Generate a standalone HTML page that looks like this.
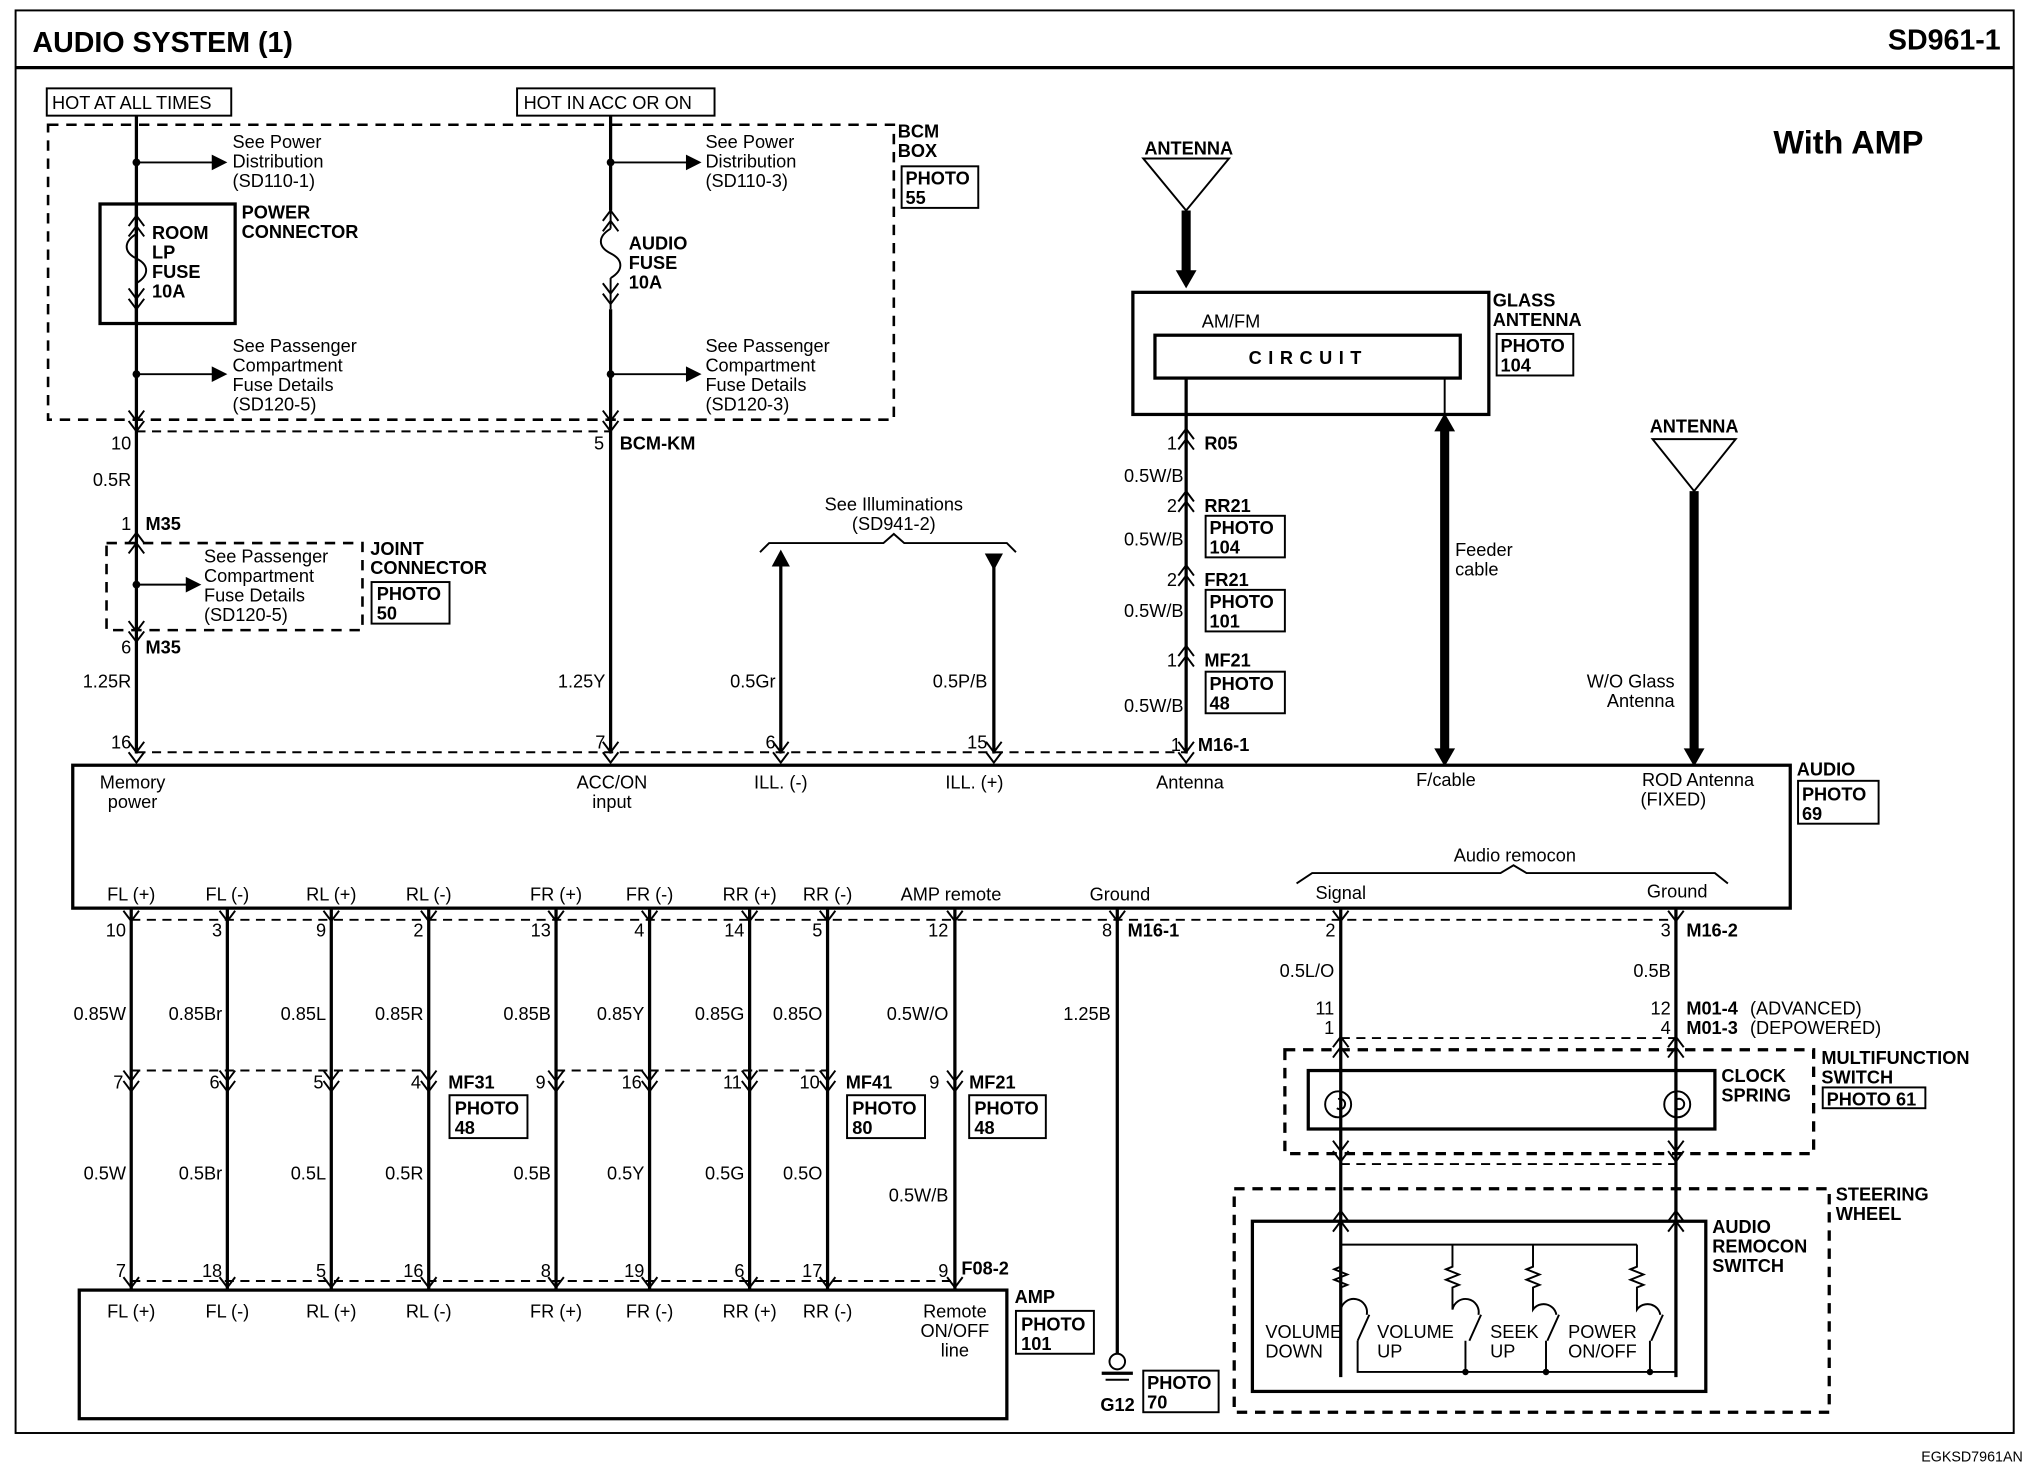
<!DOCTYPE html>
<html><head><meta charset="utf-8"><style>
html,body{margin:0;padding:0;background:#fff;}
svg{display:block;}
text{font-family:"Liberation Sans",Arial,sans-serif;font-size:14px;fill:#000;}
.b{font-weight:bold;}
.w{stroke:#000;stroke-width:2.5;fill:none;}
.t{stroke:#000;stroke-width:1.5;fill:none;}
.d{stroke:#000;stroke-width:1.5;fill:none;stroke-dasharray:7,5;}
.D{stroke:#000;stroke-width:2.5;fill:none;stroke-dasharray:8,6;}
.k{stroke:#000;stroke-width:7;fill:none;}
</style></head><body>
<svg width="2028" height="1472" viewBox="0 0 1561 1133" xmlns="http://www.w3.org/2000/svg">
<defs>
<path id="cv" d="M-6,-6 L0,2 L6,-6 M-6,2 L0,10 L6,2" stroke="#000" stroke-width="1.5" fill="none"/>
<path id="cu" d="M-6,6 L0,-2 L6,6 M-6,-2 L0,-10 L6,-2" stroke="#000" stroke-width="1.5" fill="none"/>
<path id="v1" d="M-6,-5 L0,3 L6,-5" stroke="#000" stroke-width="1.5" fill="none"/>
<path id="ar" d="M0,-6 L12,0 L0,6 Z" fill="#000"/>
</defs>
<rect x="12" y="8" width="1538" height="1095" class="t"/>
<line x1="12" y1="52" x2="1550" y2="52" class="w"/>
<text x="25" y="40" class="b" style="font-size:22px">AUDIO SYSTEM (1)</text>
<text x="1540" y="38" class="b" text-anchor="end" style="font-size:22px">SD961-1</text>
<text x="1365" y="118" class="b" style="font-size:25px">With AMP</text>
<text x="1557" y="1125" text-anchor="end" style="font-size:11px">EGKSD7961AN</text>

<!-- HOT labels -->
<rect x="36" y="68" width="142" height="21" class="t"/><text x="40" y="84">HOT AT ALL TIMES</text>
<rect x="398" y="68" width="152" height="21" class="t"/><text x="403" y="84">HOT IN ACC OR ON</text>
<rect x="37" y="96" width="651" height="227" class="D" style="stroke-width:2"/>
<text x="691" y="106" class="b">BCM</text><text x="691" y="121" class="b">BOX</text>
<rect x="694" y="128" width="59" height="32" class="t"/><text x="697" y="142" class="b">PHOTO</text><text x="697" y="157" class="b">55</text>

<!-- left BCM wire -->
<line x1="105" y1="89" x2="105" y2="580" class="w"/>
<circle cx="105" cy="125" r="3"/><line x1="105" y1="125" x2="165" y2="125" class="t"/><use href="#ar" x="163" y="125"/>
<text x="179" y="114">See Power</text><text x="179" y="129">Distribution</text><text x="179" y="144">(SD110-1)</text>
<rect x="77" y="157" width="104" height="92" class="w" fill="#fff"/>
<line x1="105" y1="157" x2="105" y2="249" class="w" stroke="#fff" stroke-width="4"/>
<line x1="105" y1="157" x2="105" y2="180" class="t"/><line x1="105" y1="218" x2="105" y2="249" class="t"/>
<path d="M105,180 C95,186 95,194 105,199 C115,204 115,212 105,218" class="t"/>
<use href="#cu" x="105" y="176"/><use href="#cv" x="105" y="228"/>
<text x="117" y="184" class="b">ROOM</text><text x="117" y="199" class="b">LP</text><text x="117" y="214" class="b">FUSE</text><text x="117" y="229" class="b">10A</text>
<text x="186" y="168" class="b">POWER</text><text x="186" y="183" class="b">CONNECTOR</text>
<circle cx="105" cy="288" r="3"/><line x1="105" y1="288" x2="165" y2="288" class="t"/><use href="#ar" x="163" y="288"/>
<text x="179" y="271">See Passenger</text><text x="179" y="286">Compartment</text><text x="179" y="301">Fuse Details</text><text x="179" y="316">(SD120-5)</text>

<!-- right BCM wire -->
<line x1="470" y1="89" x2="470" y2="580" class="w"/>
<circle cx="470" cy="125" r="3"/><line x1="470" y1="125" x2="530" y2="125" class="t"/><use href="#ar" x="528" y="125"/>
<text x="543" y="114">See Power</text><text x="543" y="129">Distribution</text><text x="543" y="144">(SD110-3)</text>
<rect x="462" y="162" width="16" height="76" fill="#fff"/>
<path d="M470,176 C460,182 460,190 470,195 C480,200 480,208 470,214" class="t"/>
<line x1="470" y1="162" x2="470" y2="176" class="t"/><line x1="470" y1="214" x2="470" y2="238" class="t"/>
<use href="#cu" x="470" y="172"/><use href="#cv" x="470" y="224"/>
<text x="484" y="192" class="b">AUDIO</text><text x="484" y="207" class="b">FUSE</text><text x="484" y="222" class="b">10A</text>
<circle cx="470" cy="288" r="3"/><line x1="470" y1="288" x2="530" y2="288" class="t"/><use href="#ar" x="528" y="288"/>
<text x="543" y="271">See Passenger</text><text x="543" y="286">Compartment</text><text x="543" y="301">Fuse Details</text><text x="543" y="316">(SD120-3)</text>

<use href="#cv" x="105" y="322"/><use href="#cv" x="470" y="322"/>
<line x1="105" y1="332" x2="470" y2="332" class="d"/>
<text x="101" y="346" text-anchor="end">10</text>
<text x="465" y="346" text-anchor="end">5</text><text x="477" y="346" class="b">BCM-KM</text>
<text x="101" y="374" text-anchor="end">0.5R</text>
<text x="101" y="408" text-anchor="end">1</text><text x="112" y="408" class="b">M35</text>
<use href="#cu" x="105" y="420"/>
<rect x="82" y="418" width="197" height="67" class="D" style="stroke-width:2"/>
<circle cx="105" cy="450" r="3"/><line x1="105" y1="450" x2="145" y2="450" class="t"/><use href="#ar" x="143" y="450"/>
<text x="157" y="433">See Passenger</text><text x="157" y="448">Compartment</text><text x="157" y="463">Fuse Details</text><text x="157" y="478">(SD120-5)</text>
<text x="285" y="427" class="b">JOINT</text><text x="285" y="442" class="b">CONNECTOR</text>
<rect x="286" y="448" width="60" height="32" class="t"/><text x="290" y="462" class="b">PHOTO</text><text x="290" y="477" class="b">50</text>
<use href="#cv" x="105" y="484"/>
<text x="101" y="503" text-anchor="end">6</text><text x="112" y="503" class="b">M35</text>
<text x="101" y="529" text-anchor="end">1.25R</text>
<text x="466" y="529" text-anchor="end">1.25Y</text>

<!-- illumination -->
<path d="M585,425 L592,418 L680,418 L688,411 L696,418 L775,418 L782,425" class="t"/>
<text x="688" y="393" text-anchor="middle">See Illuminations</text><text x="688" y="408" text-anchor="middle">(SD941-2)</text>
<line x1="601" y1="432" x2="601" y2="580" class="w"/><path d="M594,436 L601,423 L608,436Z"/>
<line x1="765" y1="430" x2="765" y2="580" class="w"/><path d="M758,426 L765,439 L772,426Z"/>
<text x="597" y="529" text-anchor="end">0.5Gr</text>
<text x="760" y="529" text-anchor="end">0.5P/B</text>

<!-- antenna -->
<path d="M880,122 L946,122 L913,162 Z" class="t"/>
<text x="915" y="119" text-anchor="middle" class="b">ANTENNA</text>
<line x1="913" y1="162" x2="913" y2="212" class="k"/><path d="M905,208 L913,222 L921,208Z"/>
<rect x="872" y="225" width="274" height="94" class="w"/>
<text x="925" y="252">AM/FM</text>
<rect x="889" y="258" width="235" height="33" class="w"/>
<text x="1007" y="280" text-anchor="middle" class="b" style="letter-spacing:5px">CIRCUIT</text>
<text x="1149" y="236" class="b">GLASS</text><text x="1149" y="251" class="b">ANTENNA</text>
<rect x="1152" y="257" width="59" height="32" class="t"/><text x="1155" y="271" class="b">PHOTO</text><text x="1155" y="286" class="b">104</text>
<line x1="913" y1="291" x2="913" y2="580" class="w"/>
<line x1="1112" y1="291" x2="1112" y2="322" class="t"/>
<line x1="1112" y1="330" x2="1112" y2="578" class="k"/><path d="M1104,332 L1112,318 L1120,332Z"/><path d="M1104,576 L1112,590 L1120,576Z"/>
<text x="1120" y="428">Feeder</text><text x="1120" y="443">cable</text>
<use href="#cu" x="913" y="340"/><text x="906" y="346" text-anchor="end">1</text><text x="927" y="346" class="b">R05</text>
<text x="911" y="371" text-anchor="end">0.5W/B</text>
<use href="#cu" x="913" y="388"/><text x="906" y="394" text-anchor="end">2</text><text x="927" y="394" class="b">RR21</text>
<rect x="928" y="397" width="61" height="32" class="t"/><text x="931" y="411" class="b">PHOTO</text><text x="931" y="426" class="b">104</text>
<text x="911" y="420" text-anchor="end">0.5W/B</text>
<use href="#cu" x="913" y="445"/><text x="906" y="451" text-anchor="end">2</text><text x="927" y="451" class="b">FR21</text>
<rect x="928" y="454" width="61" height="32" class="t"/><text x="931" y="468" class="b">PHOTO</text><text x="931" y="483" class="b">101</text>
<text x="911" y="475" text-anchor="end">0.5W/B</text>
<use href="#cu" x="913" y="507"/><text x="906" y="513" text-anchor="end">1</text><text x="927" y="513" class="b">MF21</text>
<rect x="928" y="517" width="61" height="32" class="t"/><text x="931" y="531" class="b">PHOTO</text><text x="931" y="546" class="b">48</text>
<text x="911" y="548" text-anchor="end">0.5W/B</text>

<path d="M1272,338 L1336,338 L1304,378 Z" class="t"/>
<text x="1304" y="333" text-anchor="middle" class="b">ANTENNA</text>
<line x1="1304" y1="378" x2="1304" y2="578" class="k"/><path d="M1296,576 L1304,590 L1312,576Z"/>
<text x="1289" y="529" text-anchor="end">W/O Glass</text><text x="1289" y="544" text-anchor="end">Antenna</text>

<!-- audio box top connector -->
<use href="#cv" x="105" y="577"/><use href="#cv" x="470" y="577"/><use href="#cv" x="601" y="577"/><use href="#cv" x="765" y="577"/><use href="#cv" x="913" y="577"/>
<line x1="105" y1="579" x2="913" y2="579" class="d"/>
<text x="101" y="576" text-anchor="end">16</text><text x="466" y="576" text-anchor="end">7</text><text x="597" y="576" text-anchor="end">6</text><text x="760" y="576" text-anchor="end">15</text><text x="909" y="578" text-anchor="end">1</text><text x="922" y="578" class="b">M16-1</text>
<rect x="56" y="589" width="1322" height="110" class="w"/>
<text x="102" y="607" text-anchor="middle">Memory</text><text x="102" y="622" text-anchor="middle">power</text>
<text x="471" y="607" text-anchor="middle">ACC/ON</text><text x="471" y="622" text-anchor="middle">input</text>
<text x="601" y="607" text-anchor="middle">ILL. (-)</text><text x="750" y="607" text-anchor="middle">ILL. (+)</text>
<text x="916" y="607" text-anchor="middle">Antenna</text><text x="1113" y="605" text-anchor="middle">F/cable</text>
<text x="1307" y="605" text-anchor="middle">ROD Antenna</text><text x="1288" y="620" text-anchor="middle">(FIXED)</text>
<text x="1383" y="597" class="b">AUDIO</text>
<rect x="1384" y="601" width="62" height="33" class="t"/><text x="1387" y="616" class="b">PHOTO</text><text x="1387" y="631" class="b">69</text>
<text x="1166" y="663" text-anchor="middle">Audio remocon</text>
<path d="M998,680 L1010,672 L1155,672 L1165,666 L1175,672 L1320,672 L1330,680" class="t"/>
<text x="1032" y="692" text-anchor="middle">Signal</text><text x="1291" y="691" text-anchor="middle">Ground</text>
<text x="101" y="693" text-anchor="middle">FL (+)</text><text x="175" y="693" text-anchor="middle">FL (-)</text><text x="255" y="693" text-anchor="middle">RL (+)</text><text x="330" y="693" text-anchor="middle">RL (-)</text>
<text x="428" y="693" text-anchor="middle">FR (+)</text><text x="500" y="693" text-anchor="middle">FR (-)</text><text x="577" y="693" text-anchor="middle">RR (+)</text><text x="637" y="693" text-anchor="middle">RR (-)</text>
<text x="732" y="693" text-anchor="middle">AMP remote</text><text x="862" y="693" text-anchor="middle">Ground</text>

<!-- amp wires -->
<g>
<line x1="101" y1="699" x2="101" y2="993" class="w"/><line x1="175" y1="699" x2="175" y2="993" class="w"/><line x1="255" y1="699" x2="255" y2="993" class="w"/><line x1="330" y1="699" x2="330" y2="993" class="w"/>
<line x1="428" y1="699" x2="428" y2="993" class="w"/><line x1="500" y1="699" x2="500" y2="993" class="w"/><line x1="577" y1="699" x2="577" y2="993" class="w"/><line x1="637" y1="699" x2="637" y2="993" class="w"/>
<line x1="735" y1="699" x2="735" y2="993" class="w"/>
</g>
<line x1="101" y1="708" x2="1290" y2="708" class="d"/>
<g>
<use href="#v1" x="101" y="706"/><use href="#v1" x="175" y="706"/><use href="#v1" x="255" y="706"/><use href="#v1" x="330" y="706"/><use href="#v1" x="428" y="706"/><use href="#v1" x="500" y="706"/><use href="#v1" x="577" y="706"/><use href="#v1" x="637" y="706"/><use href="#v1" x="735" y="706"/><use href="#v1" x="860" y="706"/><use href="#v1" x="1032" y="706"/><use href="#v1" x="1290" y="706"/>
</g>
<text x="97" y="721" text-anchor="end">10</text><text x="171" y="721" text-anchor="end">3</text><text x="251" y="721" text-anchor="end">9</text><text x="326" y="721" text-anchor="end">2</text><text x="424" y="721" text-anchor="end">13</text><text x="496" y="721" text-anchor="end">4</text><text x="573" y="721" text-anchor="end">14</text><text x="633" y="721" text-anchor="end">5</text><text x="730" y="721" text-anchor="end">12</text><text x="856" y="721" text-anchor="end">8</text><text x="868" y="721" class="b">M16-1</text>
<text x="1028" y="721" text-anchor="end">2</text><text x="1286" y="721" text-anchor="end">3</text><text x="1298" y="721" class="b">M16-2</text>
<text x="97" y="785" text-anchor="end">0.85W</text><text x="171" y="785" text-anchor="end">0.85Br</text><text x="251" y="785" text-anchor="end">0.85L</text><text x="326" y="785" text-anchor="end">0.85R</text><text x="424" y="785" text-anchor="end">0.85B</text><text x="496" y="785" text-anchor="end">0.85Y</text><text x="573" y="785" text-anchor="end">0.85G</text><text x="633" y="785" text-anchor="end">0.85O</text><text x="730" y="785" text-anchor="end">0.5W/O</text><text x="855" y="785" text-anchor="end">1.25B</text>
<line x1="101" y1="824" x2="330" y2="824" class="d"/><line x1="428" y1="824" x2="637" y2="824" class="d"/>
<g>
<use href="#cv" x="101" y="830"/><use href="#cv" x="175" y="830"/><use href="#cv" x="255" y="830"/><use href="#cv" x="330" y="830"/><use href="#cv" x="428" y="830"/><use href="#cv" x="500" y="830"/><use href="#cv" x="577" y="830"/><use href="#cv" x="637" y="830"/><use href="#cv" x="735" y="830"/>
</g>
<text x="95" y="838" text-anchor="end">7</text><text x="169" y="838" text-anchor="end">6</text><text x="249" y="838" text-anchor="end">5</text><text x="324" y="838" text-anchor="end">4</text><text x="345" y="838" class="b">MF31</text>
<text x="420" y="838" text-anchor="end">9</text><text x="494" y="838" text-anchor="end">16</text><text x="571" y="838" text-anchor="end">11</text><text x="631" y="838" text-anchor="end">10</text><text x="651" y="838" class="b">MF41</text>
<text x="723" y="838" text-anchor="end">9</text><text x="746" y="838" class="b">MF21</text>
<rect x="346" y="843" width="60" height="33" class="t"/><text x="350" y="858" class="b">PHOTO</text><text x="350" y="873" class="b">48</text>
<rect x="652" y="843" width="60" height="33" class="t"/><text x="656" y="858" class="b">PHOTO</text><text x="656" y="873" class="b">80</text>
<rect x="746" y="843" width="59" height="33" class="t"/><text x="750" y="858" class="b">PHOTO</text><text x="750" y="873" class="b">48</text>
<text x="97" y="908" text-anchor="end">0.5W</text><text x="171" y="908" text-anchor="end">0.5Br</text><text x="251" y="908" text-anchor="end">0.5L</text><text x="326" y="908" text-anchor="end">0.5R</text><text x="424" y="908" text-anchor="end">0.5B</text><text x="496" y="908" text-anchor="end">0.5Y</text><text x="573" y="908" text-anchor="end">0.5G</text><text x="633" y="908" text-anchor="end">0.5O</text><text x="730" y="925" text-anchor="end">0.5W/B</text>
<line x1="101" y1="986" x2="735" y2="986" class="d"/>
<g>
<use href="#v1" x="101" y="988"/><use href="#v1" x="175" y="988"/><use href="#v1" x="255" y="988"/><use href="#v1" x="330" y="988"/><use href="#v1" x="428" y="988"/><use href="#v1" x="500" y="988"/><use href="#v1" x="577" y="988"/><use href="#v1" x="637" y="988"/><use href="#v1" x="735" y="988"/>
</g>
<text x="97" y="983" text-anchor="end">7</text><text x="171" y="983" text-anchor="end">18</text><text x="251" y="983" text-anchor="end">5</text><text x="326" y="983" text-anchor="end">16</text><text x="424" y="983" text-anchor="end">8</text><text x="496" y="983" text-anchor="end">19</text><text x="573" y="983" text-anchor="end">6</text><text x="633" y="983" text-anchor="end">17</text><text x="730" y="983" text-anchor="end">9</text><text x="740" y="981" class="b">F08-2</text>
<rect x="61" y="993" width="714" height="99" class="w"/>
<text x="101" y="1014" text-anchor="middle">FL (+)</text><text x="175" y="1014" text-anchor="middle">FL (-)</text><text x="255" y="1014" text-anchor="middle">RL (+)</text><text x="330" y="1014" text-anchor="middle">RL (-)</text>
<text x="428" y="1014" text-anchor="middle">FR (+)</text><text x="500" y="1014" text-anchor="middle">FR (-)</text><text x="577" y="1014" text-anchor="middle">RR (+)</text><text x="637" y="1014" text-anchor="middle">RR (-)</text>
<text x="735" y="1014" text-anchor="middle">Remote</text><text x="735" y="1029" text-anchor="middle">ON/OFF</text><text x="735" y="1044" text-anchor="middle">line</text>
<text x="781" y="1003" class="b">AMP</text>
<rect x="782" y="1009" width="60" height="33" class="t"/><text x="786" y="1024" class="b">PHOTO</text><text x="786" y="1039" class="b">101</text>

<!-- ground -->
<line x1="860" y1="699" x2="860" y2="1042" class="w"/>
<circle cx="860" cy="1048" r="6" class="t"/><line x1="848" y1="1057" x2="872" y2="1057" class="w"/><line x1="851" y1="1062" x2="869" y2="1062" class="t"/>
<text x="847" y="1086" class="b">G12</text>
<rect x="880" y="1055" width="58" height="32" class="t"/><text x="883" y="1069" class="b">PHOTO</text><text x="883" y="1084" class="b">70</text>

<!-- right remocon -->
<line x1="1032" y1="699" x2="1032" y2="1060" class="w"/>
<line x1="1290" y1="699" x2="1290" y2="1060" class="w"/>
<text x="1027" y="752" text-anchor="end">0.5L/O</text><text x="1286" y="752" text-anchor="end">0.5B</text>
<text x="1027" y="781" text-anchor="end">11</text><text x="1027" y="796" text-anchor="end">1</text>
<text x="1286" y="781" text-anchor="end">12</text><text x="1286" y="796" text-anchor="end">4</text>
<text x="1298" y="781" class="b">M01-4</text><text x="1347" y="781">(ADVANCED)</text>
<text x="1298" y="796" class="b">M01-3</text><text x="1347" y="796">(DEPOWERED)</text>
<line x1="1032" y1="799" x2="1290" y2="799" class="d"/>
<use href="#cu" x="1032" y="808"/><use href="#cu" x="1290" y="808"/>
<rect x="989" y="808" width="407" height="80" class="D"/>
<rect x="1007" y="824" width="313" height="45" class="w" fill="#fff"/>
<circle cx="1030" cy="850" r="10" class="t"/><path d="M1030,850 m0,-4 a4,4 0 1,1 -1,7" class="t"/>
<circle cx="1291" cy="850" r="10" class="t"/><path d="M1291,850 m0,-4 a4,4 0 1,1 -1,7" class="t"/>
<text x="1325" y="833" class="b">CLOCK</text><text x="1325" y="848" class="b">SPRING</text>
<text x="1402" y="819" class="b">MULTIFUNCTION</text><text x="1402" y="834" class="b">SWITCH</text>
<rect x="1403" y="837" width="79" height="16" class="t"/><text x="1406" y="851" class="b">PHOTO 61</text>
<use href="#cv" x="1032" y="884"/><use href="#cv" x="1290" y="884"/>
<line x1="1032" y1="896" x2="1290" y2="896" class="d"/>
<rect x="950" y="915" width="458" height="172" class="D"/>
<text x="1413" y="924" class="b">STEERING</text><text x="1413" y="939" class="b">WHEEL</text>
<use href="#cu" x="1032" y="942"/><use href="#cu" x="1290" y="942"/>
<rect x="964" y="940" width="349" height="131" class="w" fill="none"/>
<text x="1318" y="949" class="b">AUDIO</text><text x="1318" y="964" class="b">REMOCON</text><text x="1318" y="979" class="b">SWITCH</text>
<line x1="1032" y1="958" x2="1260" y2="958" class="t"/>
<g class="t">
<path d="M1032,958 V975 l-5,2 l10,4 l-10,4 l10,4 l-5,2 V1008 A10,10 0 0,1 1052,1012"/>
<path d="M1118,958 V975 l-5,2 l10,4 l-10,4 l10,4 l-5,2 V1008 A10,10 0 0,1 1138,1012"/>
<path d="M1180,958 V975 l-5,2 l10,4 l-10,4 l10,4 l-5,2 V1008 A10,10 0 0,1 1198,1012"/>
<path d="M1260,958 V975 l-5,2 l10,4 l-10,4 l10,4 l-5,2 V1008 A10,10 0 0,1 1278,1012"/>
<path d="M1054,1012 L1045,1032 M1140,1012 L1131,1032 M1200,1012 L1191,1032 M1280,1012 L1271,1032"/>
<path d="M1045,1032 V1056 H1290 M1128,1032 V1056 M1190,1032 V1056 M1270,1032 V1056"/>
</g>
<circle cx="1128" cy="1056" r="2.5"/><circle cx="1190" cy="1056" r="2.5"/><circle cx="1270" cy="1056" r="2.5"/>
<text x="974" y="1030">VOLUME</text><text x="974" y="1045">DOWN</text>
<text x="1060" y="1030">VOLUME</text><text x="1060" y="1045">UP</text>
<text x="1147" y="1030">SEEK</text><text x="1147" y="1045">UP</text>
<text x="1207" y="1030">POWER</text><text x="1207" y="1045">ON/OFF</text>
</svg>
</body></html>
